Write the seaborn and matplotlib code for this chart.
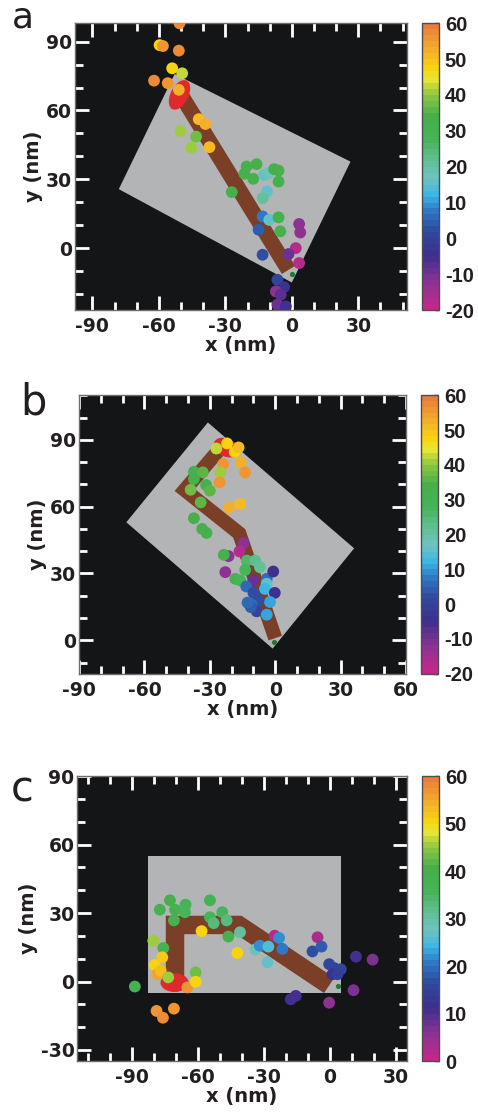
import numpy as np
import pandas as pd
import matplotlib
matplotlib.use("Agg")
import matplotlib.pyplot as plt
import seaborn as sns
from matplotlib.colors import LinearSegmentedColormap, Normalize
from matplotlib.patches import Polygon, Ellipse
from matplotlib.lines import Line2D
from matplotlib.ticker import MultipleLocator
from matplotlib.cm import ScalarMappable

sns.set_theme(style="white")
plt.rcParams['font.family'] = ['DejaVu Sans']
plt.rcParams['axes.unicode_minus'] = False

# ---------------- panel a: straight track ----------------
a_x = [-50.7, -59.7, -58.2, -51.0, -54.0, -49.5, -62.2, -56.0, -51.0, -42.0,
       -39.0, -50.2, -43.2, -45.4, -37.2, -27.1, -20.4, -21.4, -15.9, -17.4,
       -12.4, -10.5, -8.0, -6.0, -6.0, -11.2, -13.2, -13.2, -10.2, -6.0,
       -5.2, -15.0, 3.3, 3.8, -13.2, 1.8, -1.5, 3.3, -6.5, -3.5,
       -7.2, -5.0, -6.5, -2.7]
a_y = [98.0, 88.5, 88.1, 86.1, 78.4, 76.2, 73.0, 71.9, 69.0, 56.2,
       54.1, 51.1, 48.6, 43.8, 44.0, 24.4, 35.6, 32.4, 36.6, 30.2,
       31.9, 32.7, 34.4, 33.8, 29.0, 24.7, 21.8, 13.8, 12.3, 13.4,
       7.3, 8.0, 10.5, 6.8, -2.9, 0.0, -2.6, -6.5, -13.8, -17.0,
       -18.9, -20.3, -24.7, -25.4]
a_v = [58, 48, 55, 57, 48, 42, 57, 56, 53, 50,
       52, 40, 37, 40, 50, 33, 33, 32, 32, 33,
       15, 18, 32, 34, 32, 15, 20, 8, 15, 32,
       33, 4, -12, -13, 2, -18, -10, -17, 0, -4,
       -12, -7, -10, -6]
a_rect = [(-78.1, 25.7), (-52.9, 75.9), (26.5, 37.7), (0.0, -15.0)]
a_track = [(-50.5, 67.5), (-1.5, -9.5)]
a_end = (-50.7, 66.8, 14.0, 8.0, 62)      # cx, cy, width, height, angle
a_start = (0.0, -11.2)

# ---------------- panel b: zig-zag track ----------------
b_x = [-27.0, -22.1, -18.6, -16.8, -23.9, -25.2, -15.8, -13.8, -25.5, -37.3,
       -33.2, -37.3, -31.7, -30.0, -38.8, -34.2, -21.2, -16.1, -37.3, -33.5,
       -31.5, -14.5, -16.4, -21.4, -23.6, -22.9, -13.0, -9.2, -7.0, -13.8,
       -18.3, -16.1, -10.0, -3.9, -0.9, -3.9, -4.7, -13.3, -10.0, -0.2,
       -2.4, -7.7, -10.8, -8.5, -11.2, -3.9, -12.7]
b_y = [86.1, 88.4, 84.6, 86.6, 79.1, 75.4, 79.9, 75.4, 70.9, 75.7,
       75.4, 72.4, 69.7, 67.2, 67.6, 61.9, 59.7, 61.2, 54.8, 50.0,
       48.2, 43.7, 39.9, 37.8, 38.4, 30.6, 35.8, 35.8, 32.8, 31.6,
       27.6, 26.9, 26.9, 27.6, 30.9, 25.4, 23.1, 24.2, 21.3, 21.3,
       17.2, 17.9, 16.0, 13.0, 14.9, 11.5, 16.9]
b_v = [43, 47, 48, 50, 56, 40, 53, 56, 55, 33,
       35, 32, 33, 35, 37, 35, 52, 50, 33, 33,
       32, -13, -17, -12, 33, -12, 25, 22, 20, 28,
       30, 28, -10, 5, -5, 15, 13, 5, 3, -5,
       10, 2, 5, 0, 4, 10, 6]
b_rect = [(-68.3, 53.0), (-30.9, 97.8), (36.2, 41.3), (-1.2, -3.7)]
b_track = [(-24.0, 87.5), (-41.5, 67.5), (-16.5, 48.0), (0.0, 1.0)]
b_end = (-22.5, 86.5, 12.0, 8.0, -25)
b_start = (-0.6, -0.7)

# ---------------- panel c: hooked track ----------------
c_x = [-88.8, -80.4, -75.8, -79.8, -76.3, -78.6, -77.0, -73.6, -64.9, -61.1,
       -61.1, -78.9, -76.0, -71.0, -77.4, -72.8, -70.5, -71.0, -65.7, -66.0,
       -54.6, -54.6, -52.9, -49.0, -47.0, -58.4, -46.2, -40.9, -42.1, -34.0,
       -31.9, -28.0, -28.4, -25.1, -23.1, -21.6, -5.6, -7.9, -3.8, -0.3,
       2.0, 5.0, 1.2, 3.5, 11.9, 19.5, 10.8, -0.3, -17.8, -15.5]
c_y = [-2.2, 17.9, 14.7, 7.2, 10.6, 3.2, 4.7, 1.8, -2.6, 4.0,
       -0.1, -12.9, -15.9, -11.9, 31.5, 35.6, 31.5, 26.8, 33.7, 30.4,
       35.6, 28.2, 25.6, 30.4, 26.8, 22.1, 19.7, 21.6, 12.5, 14.0,
       15.7, 15.3, 8.4, 20.1, 19.1, 14.3, 19.4, 13.2, 15.3, 7.6,
       5.9, 5.4, 3.2, 3.2, 10.9, 9.6, -3.8, -9.3, -7.8, -6.3]
c_v = [38, 45, 38, 50, 52, 55, 53, 45, 57, 43,
       50, 57, 58, 57, 38, 39, 38, 38, 37, 36,
       37, 36, 33, 35, 33, 50, 40, 30, 50, 28,
       22, 26, 27, 2, 22, 20, 3, 17, 18, 15,
       15, 16, 12, 14, 10, 7, 7, 6, 10, 10]
c_rect = [(-83.0, -5.0), (-83.0, 55.0), (5.0, 55.0), (5.0, -5.0)]
c_track = [(-70.5, -1.0), (-70.5, 24.8), (-41.5, 24.8), (-0.3, -1.7)]
c_end = (-70.7, -0.5, 12.8, 8.2, 0)
c_start = (3.5, -1.9)

# time colour scale (magenta -> blue -> cyan -> green -> yellow -> orange)
scale_colors = ["#c2288a", "#8a3392", "#3d2f8d", "#2f4a9e", "#2e78c4",
                "#3ab6e6", "#6fc3c0", "#5ebf8f", "#45b357", "#47af4a",
                "#93c840", "#e9e634", "#f8d50f", "#f4ac2c", "#ea7d3a"]
scale_pos = [0.0, 0.09, 0.18, 0.27, 0.34, 0.40, 0.46, 0.53, 0.60, 0.68,
             0.76, 0.81, 0.85, 0.92, 1.0]
cmap = LinearSegmentedColormap.from_list("track_time", list(zip(scale_pos, scale_colors)), N=48)

BG = "#141517"
GREY = "#b3b4b6"
BROWN = "#7a3f26"
RED = "#e0292a"
TXT = "#231f20"


def panel(fig, box, cbox, x, y, v, vlim, xlim, ylim, rect, track, width,
          end, start, cticks, letter, letter_pos, letter_size):
    ax = fig.add_axes(box)
    cax = fig.add_axes(cbox)
    ax.set_facecolor(BG)
    ax.set_xlim(*xlim)
    ax.set_ylim(*ylim)

    ax.add_patch(Polygon(rect, closed=True, facecolor=GREY, edgecolor="none", zorder=1))

    # track width in nm converted to points
    p0 = ax.transData.transform([(0, 0), (1, 0)])
    pt_per_nm = (p0[1, 0] - p0[0, 0]) * 72.0 / fig.dpi
    tx, ty = zip(*track)
    ax.add_line(Line2D(tx, ty, color=BROWN, lw=width * pt_per_nm,
                       solid_joinstyle="miter", solid_capstyle="butt", zorder=2))

    cx, cy, ew, eh, ang = end
    ax.add_patch(Ellipse((cx, cy), ew, eh, angle=ang, facecolor=RED,
                         edgecolor="none", zorder=3))

    df = pd.DataFrame({"x": x, "y": y, "t": v})
    norm = Normalize(*vlim)
    sns.scatterplot(data=df, x="x", y="y", hue="t", palette=cmap, hue_norm=norm,
                    s=72, linewidth=0, legend=False, ax=ax, zorder=4)
    ax.scatter([start[0]], [start[1]], s=14, color="#1c7a34", linewidth=0, zorder=5)

    ax.set_xlim(*xlim)
    ax.set_ylim(*ylim)
    ax.xaxis.set_major_locator(MultipleLocator(30))
    ax.xaxis.set_minor_locator(MultipleLocator(10))
    ax.yaxis.set_major_locator(MultipleLocator(30))
    ax.yaxis.set_minor_locator(MultipleLocator(10))
    ax.tick_params(which="both", direction="in", color="white", top=True, right=True,
                   bottom=True, left=True)
    ax.tick_params(which="major", length=10, width=2, labelsize=13.5, labelcolor=TXT)
    ax.tick_params(which="minor", length=6, width=2)
    ax.tick_params(axis="x", which="major", pad=5)
    ax.tick_params(axis="y", which="major", pad=2)
    for lab in ax.get_xticklabels() + ax.get_yticklabels():
        lab.set_fontweight("bold")
    for s in ax.spines.values():
        s.set_color("#6d6e71")
        s.set_linewidth(1)
    ax.set_xlabel("x (nm)", fontsize=14, fontweight="bold", color=TXT, labelpad=0)
    ax.set_ylabel("y (nm)", fontsize=14, fontweight="bold", color=TXT, labelpad=2)

    cb = fig.colorbar(ScalarMappable(norm=norm, cmap=cmap), cax=cax, ticks=cticks)
    cb.outline.set_edgecolor("#4d4d4f")
    cb.outline.set_linewidth(1)
    cax.tick_params(direction="in", length=3, width=1, color="#222222",
                    labelsize=14.5, labelcolor=TXT, pad=4)
    for lab in cax.get_yticklabels():
        lab.set_fontweight("bold")
        lab.set_family("Liberation Sans")

    fig.text(letter_pos[0], letter_pos[1], letter, fontsize=letter_size,
             color=TXT, ha="left", va="baseline")
    return ax


fig = plt.figure(figsize=(4.78, 11.16), dpi=100)
fig.patch.set_facecolor("white")

panel(fig, [0.1563, 0.7222, 0.6952, 0.2569], [0.8822, 0.7222, 0.0368, 0.2569],
      a_x, a_y, a_v, (-20, 60), (-98, 52), (-27, 98), a_rect, a_track, 7.0,
      a_end, a_start, list(range(-20, 61, 10)), "a", (0.025, 0.9757), 26)

panel(fig, [0.1653, 0.3963, 0.6841, 0.2495], [0.8801, 0.3963, 0.0368, 0.2495],
      b_x, b_y, b_v, (-20, 60), (-90, 60), (-15, 110), b_rect, b_track, 6.5,
      b_end, b_start, list(range(-20, 61, 10)), "b", (0.043, 0.6290), 30)

panel(fig, [0.1617, 0.0490, 0.6891, 0.2554], [0.8822, 0.0490, 0.0368, 0.2554],
      c_x, c_y, c_v, (0, 60), (-115, 35), (-35, 90), c_rect, c_track, 8.4,
      c_end, c_start, list(range(0, 61, 10)), "c", (0.022, 0.2815), 30)

fig.savefig("out.png", dpi=100, facecolor="white")
